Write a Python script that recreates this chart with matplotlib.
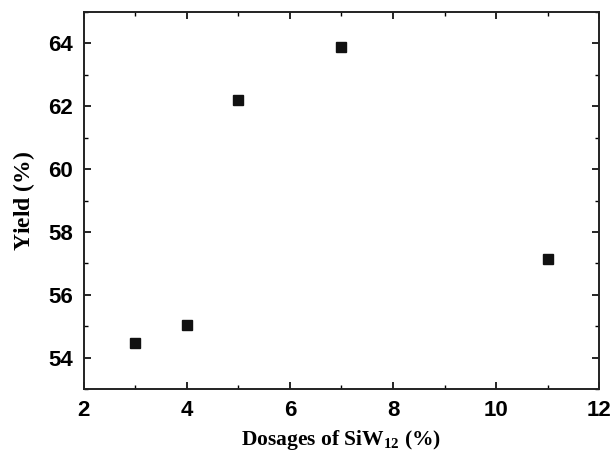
import matplotlib
matplotlib.use("Agg")
import matplotlib.pyplot as plt
from matplotlib.ticker import MultipleLocator

dosage = [3, 4, 5, 7, 11]
yield_pct = [54.45, 55.05, 62.2, 63.9, 57.15]
xticks = [2, 4, 6, 8, 10, 12]
yticks = [54, 56, 58, 60, 62, 64]

plt.rcParams['mathtext.fontset'] = 'custom'
plt.rcParams['mathtext.rm'] = 'Liberation Serif:bold'
plt.rcParams['mathtext.bf'] = 'Liberation Serif:bold'
plt.rcParams['mathtext.it'] = 'Liberation Serif:bold:italic'

fig = plt.figure(figsize=(6.12, 4.62), dpi=100)
ax = fig.add_axes([0.137, 0.158, 0.842, 0.816])
ax.plot(dosage, yield_pct, 's', color='#111111', markersize=6.5, linestyle='none')
ax.set_xlim(2, 12)
ax.set_ylim(53, 65)
ax.set_xticks(xticks)
ax.set_yticks(yticks)
ax.xaxis.set_minor_locator(MultipleLocator(1))
ax.yaxis.set_minor_locator(MultipleLocator(1))
ax.tick_params(which='major', direction='in', length=5, width=1.2, top=True, right=True, labeltop=False, labelright=False)
ax.tick_params(which='minor', direction='in', length=3, width=1.0, top=True, right=True)
ax.tick_params(axis='both', which='major', pad=8)
for lab in ax.get_xticklabels() + ax.get_yticklabels():
    lab.set_fontfamily('Liberation Sans')
    lab.set_fontweight('bold')
    lab.set_fontsize(16)
for s in ax.spines.values():
    s.set_linewidth(1.4)
    s.set_color('#222222')
ax.set_xlabel(r'Dosages of SiW$_{12}$ $\mathit{(\%)}$', fontfamily='Liberation Serif', fontweight='bold', fontsize=15.5, labelpad=5)
ax.set_ylabel(r'Yield $\mathit{(\%)}$', fontfamily='Liberation Serif', fontweight='bold', fontsize=17, labelpad=8)
fig.savefig('out.png', dpi=100)
